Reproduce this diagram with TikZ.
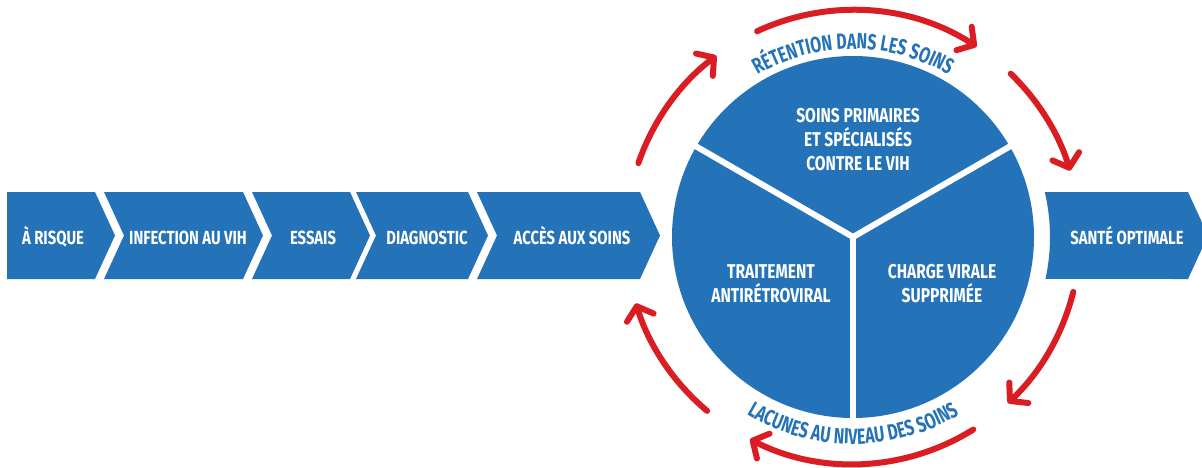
\documentclass[tikz,border=0pt]{standalone}
\usepackage{fontspec}
\newfontfamily\condfont[FakeStretch=0.78]{Fira Sans}
\newfontfamily\curvefont[FakeStretch=0.72]{Fira Sans}
\usetikzlibrary{arrows.meta,calc,decorations.text}
\definecolor{vihblue}{RGB}{36,114,184}
\definecolor{vihred}{RGB}{218,28,35}

\begin{document}
\begin{tikzpicture}[x=0.5pt,y=0.5pt,
  lbl/.style={text=white,anchor=base,font=\condfont\bfseries\fontsize{9.5}{11}\selectfont},
  seclbl/.style={text=white,align=center,font=\condfont\bfseries\fontsize{10}{12}\selectfont},
  cyclearrow/.style={vihred,line width=3pt,line cap=round,-{Straight Barb[length=6pt,width=14pt,round]}}]
  \useasboundingbox (0,0) rectangle (1202,467);
  \clip (0,0) rectangle (1202,467);
  %CHEVRONS
  \fill[vihblue] (7,275) -- (95,275) -- (115,231.5) -- (95,188) -- (7,188) -- cycle;
  \foreach \l/\r in {104/243,252/350,356/468,477/640}
    \fill[vihblue] (\l,275) -- (\r,275) -- (\r+20,231.5) -- (\r,188) -- (\l,188) -- (\l+20,231.5) -- cycle;
  \node[lbl] (risque) at (53,223) {À RISQUE};
  \node[lbl] (infection) at (188,223) {INFECTION AU VIH};
  \node[lbl] (essais) at (313,223) {ESSAIS};
  \node[lbl] (diagnostic) at (427,223) {DIAGNOSTIC};
  \node[lbl] (acces) at (572,223) {ACCÈS AUX SOINS};
  %CERCLE
  \coordinate (c) at (853,230);
  \fill[vihblue] (c) circle[radius=181];
  \foreach \a in {30,150,270}
    \draw[white,line width=3pt] (c) -- ($(c)+(\a:185)$);
  \node[seclbl] (soins) at (858,327) {SOINS PRIMAIRES\\ET SPÉCIALISÉS\\CONTRE LE VIH};
  \node[seclbl] (traitement) at (771,183.5) {TRAITEMENT\\ANTIRÉTROVIRAL};
  \node[seclbl] (charge) at (942,183.5) {CHARGE VIRALE\\SUPPRIMÉE};
  %SANTE
  \fill[vihblue] (1188,275) -- (1208,231.5) -- (1188,188) -- ($(c)+(-12.3:197)$)
    arc[start angle=-12.3,end angle=13.2,radius=197] -- cycle;
  \node[lbl] (sante) at (1127,223) {SANTÉ OPTIMALE};
  %FLECHES
  \foreach \a/\b in {161/127,115/57,46/17,-14/-47,-58/-117,-130/-163}
    \draw[cyclearrow] ($(c)+(\a:227)$) arc[start angle=\a,end angle=\b,radius=227];
  %TEXTES COURBES
  \path[decorate,decoration={text along path,text align=center,
    text={|\color{vihblue}\curvefont\bfseries\fontsize{11}{11}\selectfont|RÉTENTION DANS LES SOINS}}]
    ($(c)+(150:188)$) arc[start angle=150,end angle=30,radius=188];
  \path[decorate,decoration={text along path,text align=center,
    text={|\color{vihblue}\curvefont\bfseries\fontsize{11}{11}\selectfont|LACUNES AU NIVEAU DES SOINS}}]
    ($(c)+(-150:207)$) arc[start angle=-150,end angle=-30,radius=207];
\end{tikzpicture}
\end{document}
